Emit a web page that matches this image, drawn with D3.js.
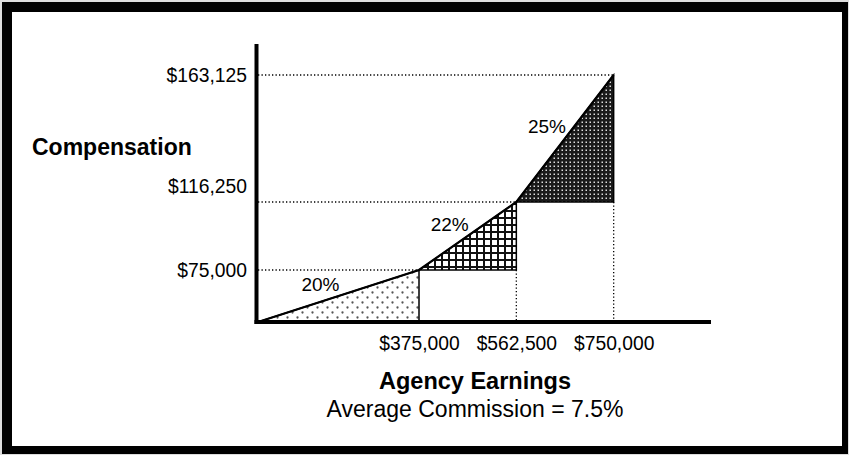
<!DOCTYPE html>
<html>
<head>
<meta charset="utf-8">
<script src="https://cdn.jsdelivr.net/npm/d3@7"></script>
<style>
  html, body { margin: 0; padding: 0; background: #fff; }
  svg { display: block; font-family: "Liberation Sans", Arial, Helvetica, sans-serif; }
</style>
</head>
<body>
<svg id="chart" width="849" height="455"></svg>
<script>
// Tier breakpoints of agency earnings and the compensation reached at each one
const earnings = [0, 375000, 562500, 750000];
const compensation = [0, 75000, 116250, 163125];
const axisMaxEarnings = 937500;
const xTickValues = [375000, 562500, 750000];
const yTickValues = [75000, 116250, 163125];
const averageCommission = "7.5%";

const svg = d3.select("#chart");
const W = 849, H = 455;

// Frame
svg.append("rect").attr("x", 0).attr("y", 0).attr("width", W).attr("height", H).attr("fill", "#ddd");
svg.append("rect").attr("x", 2).attr("y", 2).attr("width", W - 3).attr("height", H - 3).attr("fill", "#000");
svg.append("rect").attr("x", 12).attr("y", 12).attr("width", 830).attr("height", 434).attr("fill", "#fff");

// Schematic (piecewise) scales
const x = d3.scaleLinear()
  .domain([0, 375000, axisMaxEarnings])
  .range([258, 419, 711]);
const y = d3.scaleLinear()
  .domain([0, 75000, 116250, 163125])
  .range([322, 270, 202, 75]);

// Fill patterns for each tier
const defs = svg.append("defs");
const pDots = defs.append("pattern").attr("id", "pDots")
  .attr("patternUnits", "userSpaceOnUse").attr("width", 10).attr("height", 10);
pDots.append("rect").attr("width", 10).attr("height", 10).attr("fill", "#fff");
[[2.5, 2.5], [7.5, 7.5]].forEach(([cx, cy]) =>
  pDots.append("circle").attr("cx", cx).attr("cy", cy).attr("r", 1.15).attr("fill", "#555"));

const pGrid = defs.append("pattern").attr("id", "pGrid")
  .attr("patternUnits", "userSpaceOnUse").attr("width", 7).attr("height", 7);
pGrid.append("rect").attr("width", 7).attr("height", 7).attr("fill", "#fff");
pGrid.append("rect").attr("x", 0).attr("y", 0).attr("width", 7).attr("height", 2).attr("fill", "#111");
pGrid.append("rect").attr("x", 0).attr("y", 0).attr("width", 2).attr("height", 7).attr("fill", "#111");

const pDark = defs.append("pattern").attr("id", "pDark")
  .attr("patternUnits", "userSpaceOnUse").attr("width", 4).attr("height", 4);
pDark.append("rect").attr("width", 4).attr("height", 4).attr("fill", "#1a1a1a");
pDark.append("rect").attr("x", 1.5).attr("y", 1.5).attr("width", 1.5).attr("height", 1.5).attr("fill", "#ddd");

const fills = ["url(#pDots)", "url(#pGrid)", "url(#pDark)"];

// Tier segments
const tiers = d3.range(1, earnings.length).map(i => ({
  x0: earnings[i - 1], x1: earnings[i],
  y0: compensation[i - 1], y1: compensation[i],
  rate: (compensation[i] - compensation[i - 1]) / (earnings[i] - earnings[i - 1]),
  i: i - 1
}));

// Dotted guide lines
const guides = svg.append("g").attr("stroke", "#000").attr("stroke-width", 1.3)
  .attr("stroke-dasharray", "1.3,2.2").attr("fill", "none");
tiers.forEach(t => {
  guides.append("line")
    .attr("x1", x(0)).attr("x2", x(t.x1))
    .attr("y1", y(t.y1)).attr("y2", y(t.y1));
  if (t.i > 0) {
    guides.append("line")
      .attr("x1", x(t.x1)).attr("x2", x(t.x1))
      .attr("y1", y(t.y0)).attr("y2", y(0));
  }
});

// Shaded triangles
svg.append("g").selectAll("path").data(tiers).join("path")
  .attr("d", t => `M${x(t.x0)},${y(t.y0)}L${x(t.x1)},${y(t.y1)}L${x(t.x1)},${y(t.y0)}Z`)
  .attr("fill", t => fills[t.i])
  .attr("stroke", "#000").attr("stroke-width", 1.5);

// Compensation line
svg.append("path")
  .datum(d3.zip(earnings, compensation))
  .attr("d", d3.line().x(d => x(d[0])).y(d => y(d[1])))
  .attr("fill", "none").attr("stroke", "#000").attr("stroke-width", 2.2);

// Rate labels
const pct = d3.format(".0%");
svg.append("g").selectAll("text").data(tiers).join("text")
  .attr("x", t => (x(t.x0) + x(t.x1)) / 2 - 18)
  .attr("y", t => (y(t.y0) + y(t.y1)) / 2 - 12)
  .attr("text-anchor", "middle").attr("dominant-baseline", "central")
  .attr("font-size", 19)
  .text(t => pct(t.rate));

// Axes lines
svg.append("line").attr("x1", x(0) - 1.5).attr("x2", x(0) - 1.5)
  .attr("y1", 44).attr("y2", y(0) + 2)
  .attr("stroke", "#000").attr("stroke-width", 4);
svg.append("line").attr("x1", x(0) - 3.5).attr("x2", x(axisMaxEarnings))
  .attr("y1", y(0)).attr("y2", y(0))
  .attr("stroke", "#000").attr("stroke-width", 4);

// Tick labels via axis generators
const money = d3.format("$,");
const xAxis = svg.append("g").attr("transform", `translate(0,${y(0)})`)
  .call(d3.axisBottom(x).tickValues(xTickValues).tickFormat(money).tickSize(0).tickPadding(14));
const yAxis = svg.append("g").attr("transform", `translate(${x(0) - 1},0)`)
  .call(d3.axisLeft(y).tickValues(yTickValues).tickFormat(money).tickSize(0).tickPadding(10));
[xAxis, yAxis].forEach(g => {
  g.select(".domain").remove();
  g.selectAll("text").attr("font-size", 19.3).attr("fill", "#000")
    .attr("font-family", "Liberation Sans, Arial, sans-serif");
});
// The middle compensation label sits above its guide line
yAxis.selectAll(".tick text").filter(d => d === 116250).attr("dy", "-0.5em");

// Titles
svg.append("text").attr("x", 32).attr("y", 147)
  .attr("dominant-baseline", "central")
  .attr("font-size", 23).attr("font-weight", "bold")
  .text("Compensation");
svg.append("text").attr("x", 475).attr("y", 381)
  .attr("text-anchor", "middle").attr("dominant-baseline", "central")
  .attr("font-size", 23.5).attr("font-weight", "bold")
  .text("Agency Earnings");
svg.append("text").attr("x", 475).attr("y", 409)
  .attr("text-anchor", "middle").attr("dominant-baseline", "central")
  .attr("font-size", 23)
  .text("Average Commission = " + averageCommission);
</script>
</body>
</html>
